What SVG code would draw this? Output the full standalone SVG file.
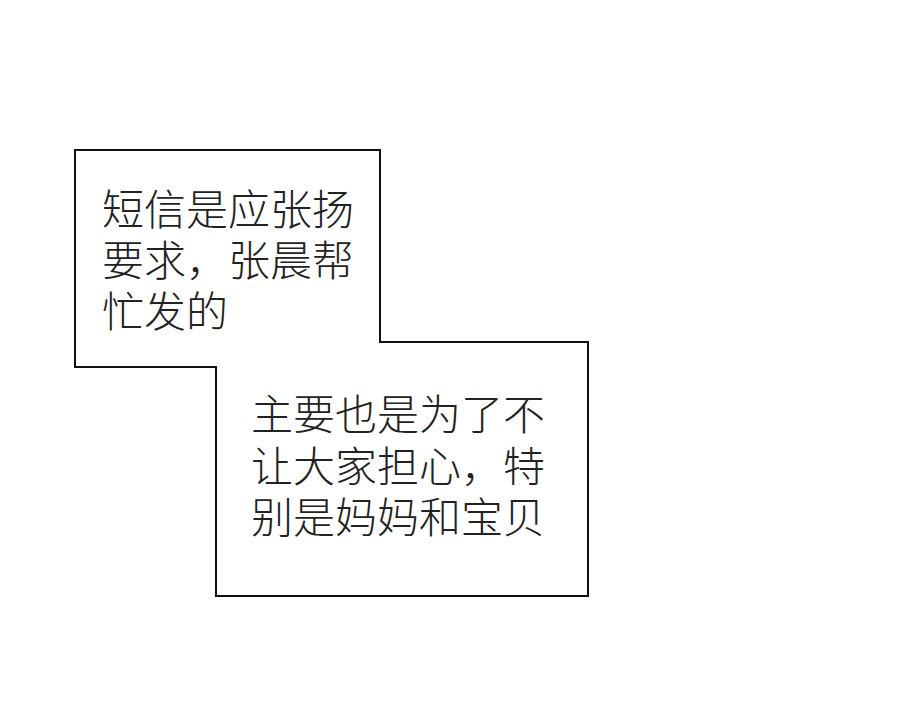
<svg xmlns="http://www.w3.org/2000/svg" width="900" height="703" viewBox="0 0 900 703">
<style>
.t{font-family:"Noto Sans CJK SC","Noto Sans CJK JP",sans-serif;font-size:42px;font-weight:300;fill:#222;}
.b{fill:#fff;stroke:#111;stroke-width:2;}
</style>
<rect width="900" height="703" fill="#fff"/>
<g id="boxes">
<path class="b" d="M75,150 H380 V342 H588 V596 H216 V367 H75 Z"/>
</g>
<g id="node1">
<text class="t"><tspan x="102" y="225">短信是应张扬</tspan><tspan x="102" y="276">要求，张晨帮</tspan><tspan x="102" y="327">忙发的</tspan></text>
</g>
<g id="node2">
<text class="t"><tspan x="251" y="430">主要也是为了不</tspan><tspan x="251" y="482">让大家担心，特</tspan><tspan x="251" y="533">别是妈妈和宝贝</tspan></text>
</g>
</svg>
